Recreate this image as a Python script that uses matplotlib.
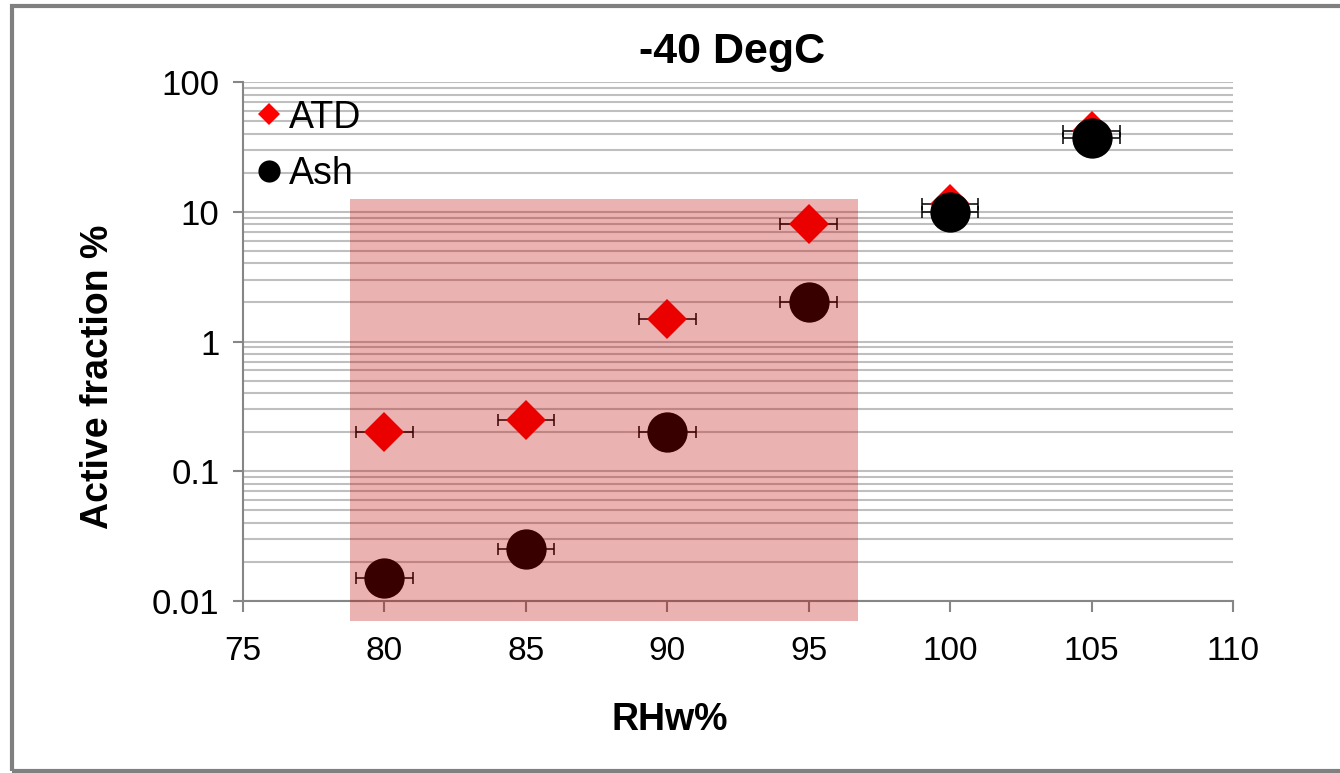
import matplotlib
matplotlib.use("Agg")
import matplotlib.pyplot as plt
from matplotlib.patches import Rectangle
from matplotlib.ticker import FixedLocator, FuncFormatter, LogLocator, NullFormatter

plt.rcParams['font.family'] = ['Liberation Sans', 'DejaVu Sans']

# ---- data ----
rh = [80, 85, 90, 95, 100, 105]
atd = [0.2, 0.25, 1.5, 8, 11.5, 42]
ash = [0.015, 0.025, 0.2, 2, 10, 37]
rh_err = [1, 1, 1, 1, 1, 1]
x_ticks = [75, 80, 85, 90, 95, 100, 105, 110]
y_ticks = [0.01, 0.1, 1, 10, 100]
title = "-40 DegC"
xlabel = "RHw%"
ylabel = "Active fraction %"
# highlighted region (data coords)
shade_x = (78.78, 96.74)
shade_y = (0.00705, 12.5)

W, H = 1340, 773
fig = plt.figure(figsize=(W / 100, H / 100), dpi=100)
ax = fig.add_axes([243 / W, 1 - 601 / H, (1233 - 243) / W, (601 - 82) / H])

# outer border
fig.patches.append(Rectangle((12 / W, 2 / H), 1.2, 1 - 8 / H, transform=fig.transFigure,
                             fill=False, edgecolor='#808080', linewidth=3, zorder=0))

ax.set_yscale('log')
ax.set_xlim(75, 110)
ax.set_ylim(0.01, 100)

gridc = '#bfbfbf'
ax.yaxis.set_major_locator(FixedLocator(y_ticks))
ax.yaxis.set_minor_locator(LogLocator(base=10, subs=range(2, 10)))
ax.yaxis.set_minor_formatter(NullFormatter())
ax.yaxis.set_major_formatter(FuncFormatter(lambda v, p: '%g' % v))
ax.set_xticks(x_ticks)
ax.grid(True, axis='y', which='both', color=gridc, linewidth=1.5, zorder=0)
ax.set_axisbelow(True)

for s in ['top', 'right']:
    ax.spines[s].set_visible(False)
for s in ['left', 'bottom']:
    ax.spines[s].set_color('#868686')
    ax.spines[s].set_linewidth(1.5)
ax.tick_params(axis='y', which='major', direction='out', length=7, width=1.5, color='#868686',
               labelsize=25, pad=10)
ax.tick_params(axis='y', which='minor', length=0)
ax.tick_params(axis='x', direction='out', length=8, width=1.5, color='#868686',
               labelsize=24, pad=17)

ax.errorbar(rh, atd, xerr=rh_err, fmt='none', ecolor='black', elinewidth=1.1,
            capsize=4.5, capthick=1.1, zorder=3)
ax.errorbar(rh, ash, xerr=rh_err, fmt='none', ecolor='black', elinewidth=1.1,
            capsize=4.5, capthick=1.1, zorder=3)
ax.plot(rh, atd, linestyle='none', marker='D', markersize=20, color='#ff0000',
        markeredgewidth=0, label='ATD', zorder=4)
ax.plot(rh, ash, linestyle='none', marker='o', markersize=29, color='black',
        markeredgewidth=0, label='Ash', zorder=5)

ax.add_patch(Rectangle((shade_x[0], shade_y[0]), shade_x[1] - shade_x[0], shade_y[1] - shade_y[0],
                       facecolor='#c00000', alpha=0.3, edgecolor='none', zorder=10, clip_on=False))

leg = ax.legend(loc='upper left', bbox_to_anchor=(0.0, 0.995), frameon=False, fontsize=27,
                markerscale=0.55, handlelength=0.6, handletextpad=0.23, labelspacing=0.55,
                borderaxespad=0)

ax.text(0.494, 1.058, title, transform=ax.transAxes, ha='center', va='center',
        fontsize=31, fontweight='bold')
ax.set_xlabel(xlabel, fontsize=27, fontweight='bold')
ax.set_ylabel(ylabel, fontsize=27, fontweight='bold')
ax.xaxis.set_label_coords(0.431, -0.195)
ax.yaxis.set_label_coords(-0.128, 0.432)

fig.savefig('out.png', dpi=100)
